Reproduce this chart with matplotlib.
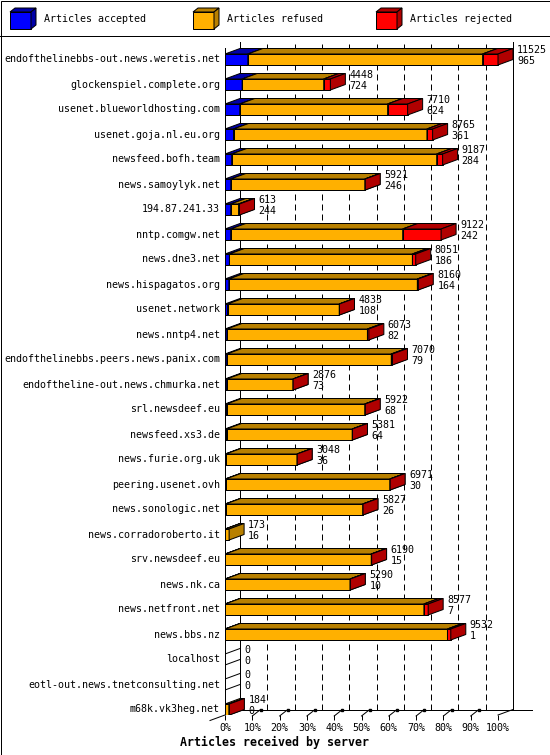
import matplotlib
matplotlib.use("Agg")
import matplotlib.pyplot as plt
from matplotlib.patches import Polygon, Rectangle
from matplotlib.transforms import offset_copy

# data (offered / accepted are the printed numbers,
# refused / rejected estimated from the bar segments)
servers = [
    "endofthelinebbs-out.news.weretis.net", "glockenspiel.complete.org",
    "usenet.blueworldhosting.com", "usenet.goja.nl.eu.org", "newsfeed.bofh.team",
    "news.samoylyk.net", "194.87.241.33", "nntp.comgw.net", "news.dne3.net",
    "news.hispagatos.org", "usenet.network", "news.nntp4.net",
    "endofthelinebbs.peers.news.panix.com", "endoftheline-out.news.chmurka.net",
    "srl.newsdeef.eu", "newsfeed.xs3.de", "news.furie.org.uk", "peering.usenet.ovh",
    "news.sonologic.net", "news.corradoroberto.it", "srv.newsdeef.eu", "news.nk.ca",
    "news.netfront.net", "news.bbs.nz", "localhost", "eotl-out.news.tnetconsulting.net",
    "m68k.vk3heg.net",
]
offered = [11525, 4448, 7710, 8765, 9187, 5921, 613, 9122, 8051, 8160, 4833, 6073,
           7070, 2876, 5922, 5381, 3048, 6971, 5827, 173, 6190, 5290, 8577, 9532,
           0, 0, 184]
accepted = [965, 724, 624, 361, 284, 246, 244, 242, 186, 164, 108, 82,
            79, 73, 68, 64, 36, 30, 26, 16, 15, 10, 7, 1, 0, 0, 0]
refused = [9910, 3444, 6241, 8164, 8653, 5660, 329, 7260, 7725, 7956, 4715, 5931,
           6941, 2798, 5834, 5307, 3007, 6931, 5791, 157, 6160, 5270, 8390, 9391,
           0, 0, 164]
rejected = [650, 280, 845, 240, 250, 15, 40, 1620, 140, 40, 10, 60,
            50, 5, 20, 10, 5, 10, 10, 0, 15, 10, 180, 140, 0, 0, 20]
tick_labels = ["0%", "10%", "20%", "30%", "40%", "50%", "60%", "70%", "80%", "90%", "100%"]

plt.rcParams["font.family"] = ["DejaVu Sans Mono"]
plt.rcParams["font.size"] = 7.2

BLUE, BLUE_D = "#0000ff", "#0000a8"
ORANGE, ORANGE_D = "#ffb000", "#b88000"
RED, RED_D = "#ff0000", "#b00000"
LW = 0.72  # one pixel

W, HT = 550, 755
fig = plt.figure(figsize=(W / 100, HT / 100), dpi=100)

# ---- frame and legend (pixel coords)
bg = fig.add_axes([0, 0, 1, 1], zorder=0)
bg.set_xlim(0, W)
bg.set_ylim(HT, 0)
bg.axis("off")
bg.add_patch(Rectangle((0.5, 0.5), W - 1, HT - 1, fill=False, ec="k", lw=LW))
bg.plot([0, W], [36, 36], color="k", lw=LW)


def cube(a, x, y, w, h, dx, dy, c, cd, z=2):
    a.add_patch(Rectangle((x, y), w, h, fc=c, ec="k", lw=LW, zorder=z))
    a.add_patch(Polygon([(x, y), (x + w, y), (x + w + dx, y - dy), (x + dx, y - dy)],
                        fc=cd, ec="k", lw=LW, zorder=z))
    a.add_patch(Polygon([(x + w, y), (x + w + dx, y - dy), (x + w + dx, y + h - dy), (x + w, y + h)],
                        fc=cd, ec="k", lw=LW, zorder=z))


for text, c, cd, x in [("Articles accepted", BLUE, BLUE_D, 10),
                       ("Articles refused", ORANGE, ORANGE_D, 193),
                       ("Articles rejected", RED, RED_D, 376)]:
    cube(bg, x, 12, 21, 17, 5, 4, c, cd)
    bg.text(x + 34, 19.5, text, va="center", ha="left")

# ---- main chart
n = len(servers)
top = max(offered)
PX = top / 273.0          # articles per pixel
DX = 15 * PX              # depth, x
DY = 0.22                 # depth, rows
H = 0.22                  # half bar height, rows
floor = n - 1 + H
back_floor = floor - DY

ax = fig.add_axes([225 / W, (HT - 715) / HT, (532 - 225) / W, (715 - 42) / HT], zorder=1)
ax.patch.set_visible(False)
ax.set_xlim(0, 307 * PX)
ax.set_ylim(floor, -0.7)
for s in ax.spines.values():
    s.set_visible(False)
ax.set_yticks([])
step = top / 10
ax.set_xticks([k * step for k in range(11)], tick_labels)
ax.tick_params(axis="x", length=3.6, width=LW, pad=2.5, labelsize=7.2)

# grid on the back wall
for k in range(1, 10):
    ax.plot([k * step + DX] * 2, [back_floor, -0.7], color="k", lw=LW,
            ls=(0, (6, 4)), zorder=1)
for xb in (DX, top + DX):
    ax.plot([xb, xb], [back_floor, -0.7], color="k", lw=LW, zorder=1)
ax.plot([0, 0], [floor, -0.45], color="k", lw=LW, zorder=1)
ax.plot([DX, 307 * PX], [back_floor] * 2, color="k", lw=LW, zorder=1, clip_on=False)
ax.plot([-DX, DX], [floor + DY, back_floor], color="k", lw=LW, zorder=1, clip_on=False)
ax.plot([top, top + DX], [floor, back_floor], color="k", lw=LW, zorder=1, clip_on=False)
for k in range(1, 10):
    ax.plot([k * step, k * step + 0.55 * DX], [floor + 0.04, back_floor], color="k",
            lw=LW, zorder=1, clip_on=False)
    ax.plot([k * step + 0.55 * DX], [back_floor], marker="s", ms=2, color="k",
            zorder=1, clip_on=False)

lab_tr = offset_copy(ax.transData, fig, x=-5, y=0, units="dots")
num_tr = offset_copy(ax.transData, fig, x=4, y=0, units="dots")

for i in range(n):
    r = i
    yt, yb = r - H, r + H
    ax.text(0, r, servers[i], transform=lab_tr, ha="right", va="center", clip_on=False)
    if offered[i] == 0:
        for yy in (yt, yb):
            ax.plot([0, DX], [yy, yy - DY], color="k", lw=LW, zorder=3)
    else:
        left = 0
        segs = [(accepted[i], BLUE, BLUE_D), (refused[i], ORANGE, ORANGE_D),
                (rejected[i], RED, RED_D)]
        for k, (v, c, cd) in enumerate(segs):
            if v <= 0:
                continue
            x0, x1 = left, left + v
            ax.barh(r, v, left=x0, height=2 * H, color=c, edgecolor="k", lw=LW,
                    zorder=3 + k)
            ax.add_patch(Polygon([(x0, yt), (x1, yt), (x1 + DX, yt - DY), (x0 + DX, yt - DY)],
                                 fc=cd, ec="k", lw=LW, zorder=3.5 + k))
            ax.add_patch(Polygon([(x1, yt), (x1 + DX, yt - DY), (x1 + DX, yb - DY), (x1, yb)],
                                 fc=cd, ec="k", lw=LW, zorder=3.5 + k))
            left = x1
    ax.text(offered[i] + DX, r - 0.38, str(offered[i]), transform=num_tr,
            ha="left", va="center", clip_on=False, zorder=8)
    ax.text(offered[i] + DX, r + 0.05, str(accepted[i]), transform=num_tr,
            ha="left", va="center", clip_on=False, zorder=8)

fig.text(0.5, 1 - 742 / HT, "Articles received by server", ha="center", va="center",
         fontsize=8.4, fontweight="bold")

fig.savefig("out.png", dpi=100)
